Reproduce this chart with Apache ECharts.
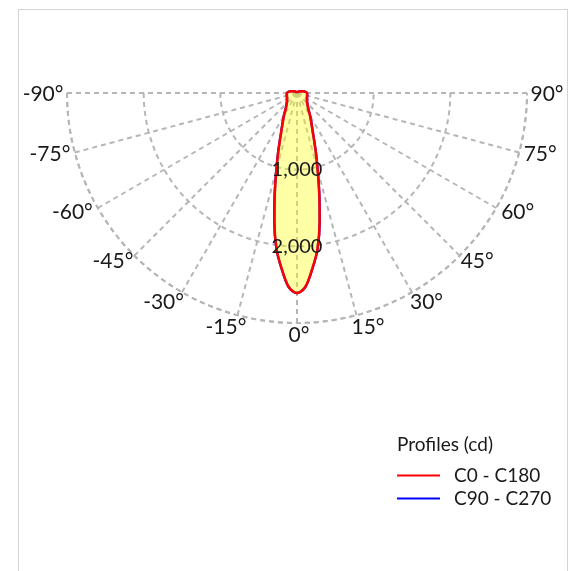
<!DOCTYPE html>
<html>
<head>
<meta charset="utf-8">
<script src="https://cdn.jsdelivr.net/npm/echarts@6/dist/echarts.min.js"></script>
<style>
html,body{margin:0;padding:0;background:#fff;}
#frame{position:absolute;left:18px;top:9px;width:550px;height:600px;border:1px solid #d4d4d4;box-sizing:border-box;pointer-events:none;}
#chart{position:absolute;left:0;top:0;width:571px;height:571px;}
</style>
</head>
<body>
<div id="frame"></div>
<div id="chart"></div>
<script>
// Gamma angles (degrees, 0 = straight down)
const gammaAngles = [-180,-150,-135,-120,-110,-100,-90,-80,-70,-60,-50,-45,-40,-35,-30,-25,-22.5,-20,-17.5,-15,-12.5,-10,-7.5,-5,-2.5,0,2.5,5,7.5,10,12.5,15,17.5,20,22.5,25,30,35,40,45,50,60,70,80,90,100,110,120,135,150,180];
// Luminous intensity (cd) per profile
const c0c180 = [0,10,25,40,70,105,130,135,140,150,170,190,215,260,340,450,530,650,820,1040,1340,1700,2050,2300,2530,2610,2530,2300,2050,1700,1340,1040,820,650,530,450,340,260,215,190,170,150,140,135,130,105,70,40,25,10,0];
const c90c270 = [0,10,25,40,70,105,130,135,140,150,170,190,215,260,340,450,530,650,820,1040,1340,1700,2050,2300,2530,2610,2530,2300,2050,1700,1340,1040,820,650,530,450,340,260,215,190,170,150,140,135,130,105,70,40,25,10,0];
// Axis ticks
const angleTicks = [-90,-75,-60,-45,-30,-15,0,15,30,45,60,75,90];
const radialTicks = [1000, 2000];
const radialMax = 3000;
const seriesNames = ['C0 - C180', 'C90 - C270'];
const legendTitle = 'Profiles (cd)';

const FONT = 'Lato';
const TEXT = '#1a1a1a';
const grid = {color:'#b6b6b6', width:2, type:[5,4]};

// label placement style for angle ticks (by |angle|)
const angleLabelStyle = {
  0:{align:'center', dx:2, dy:12},
  15:{align:'center', dx:11.5, dy:12},
  30:{align:'side', dx:-2, dy:10},
  45:{align:'side', dx:1, dy:6},
  60:{align:'side', dx:5, dy:4},
  75:{align:'side', dx:4.5, dy:2},
  90:{align:'side', dx:3.5, dy:1}
};
const labelText = {fontFamily:FONT, color:TEXT, textBorderWidth:0, textBorderColor:'transparent', textShadowBlur:0, opacity:1};
function angleLabel(a){
  const s = angleLabelStyle[Math.abs(a)];
  const sg = a < 0 ? -1 : 1;
  const align = s.align === 'center' ? 'center' : (a < 0 ? 'right' : 'left');
  return {
    value:[radialMax, a],
    label:Object.assign({show:true, position:[0,0], formatter:a + '°', align:align, verticalAlign:'middle',
      offset:[sg*s.dx, s.dy], fontSize:21}, labelText)
  };
}

const chart = echarts.init(document.getElementById('chart'), null, {renderer:'canvas'});
chart.setOption({
  animation:false,
  textStyle:{fontFamily:FONT},
  title:{text:legendTitle, left:397, top:435, padding:0, textStyle:{fontFamily:FONT, fontSize:19, fontWeight:'normal', color:TEXT}},
  legend:{
    data:seriesNames, orient:'vertical', left:397, top:466, padding:0, itemWidth:43, itemHeight:2, icon:'rect', itemGap:4,
    textStyle:{fontFamily:FONT, fontSize:19, color:TEXT, padding:[0,0,0,9]}
  },
  polar:[
    {center:[297,93], radius:230},
    {center:[297,93], radius:230}
  ],
  angleAxis:[
    {
      polarIndex:0, type:'value', min:-90, max:90, interval:15, startAngle:180, endAngle:360, clockwise:false,
      axisLine:{show:true, lineStyle:grid},
      axisTick:{show:false},
      splitLine:{show:true, lineStyle:grid},
      axisLabel:{show:false}
    },
    {
      polarIndex:1, type:'value', min:-180, max:180, startAngle:90, clockwise:false,
      axisLine:{show:false}, axisTick:{show:false}, splitLine:{show:false}, axisLabel:{show:false}
    }
  ],
  radiusAxis:[
    {
      polarIndex:0, type:'value', min:0, max:radialMax, interval:1000,
      axisLine:{show:false}, axisTick:{show:false}, axisLabel:{show:false},
      splitLine:{show:true, lineStyle:grid}
    },
    {
      polarIndex:1, type:'value', min:0, max:radialMax,
      axisLine:{show:false}, axisTick:{show:false}, axisLabel:{show:false}, splitLine:{show:false}
    }
  ],
  series:[
    {
      name:seriesNames[1], type:'line', coordinateSystem:'polar', polarIndex:1, clip:false, smooth:0.3, symbol:'none',
      data:gammaAngles.map((a,i)=>[c90c270[i], a]),
      lineStyle:{color:'#0000ff', width:2.5}, itemStyle:{color:'#0000ff'}, z:2
    },
    {
      name:seriesNames[0], type:'line', coordinateSystem:'polar', polarIndex:1, clip:false, smooth:0.3, symbol:'none',
      data:gammaAngles.map((a,i)=>[c0c180[i], a]),
      lineStyle:{color:'#ff0000', width:2.5}, itemStyle:{color:'#ff0000'},
      areaStyle:{color:'rgba(255,255,0,0.5)'}, z:3
    },
    {
      type:'scatter', coordinateSystem:'polar', polarIndex:0, symbolSize:0, silent:true, z:5,
      itemStyle:{color:TEXT, opacity:1},
      data:radialTicks.map(v=>[v,0]),
      label:Object.assign({show:true, position:[0,0], align:'center', verticalAlign:'middle',
        formatter:p=>p.value[0].toLocaleString('en-US'), fontSize:20}, labelText)
    },
    {
      type:'scatter', coordinateSystem:'polar', polarIndex:0, symbolSize:0, silent:true, z:5, clip:false,
      itemStyle:{color:TEXT, opacity:1},
      data:angleTicks.map(angleLabel)
    }
  ]
});
</script>
</body>
</html>
